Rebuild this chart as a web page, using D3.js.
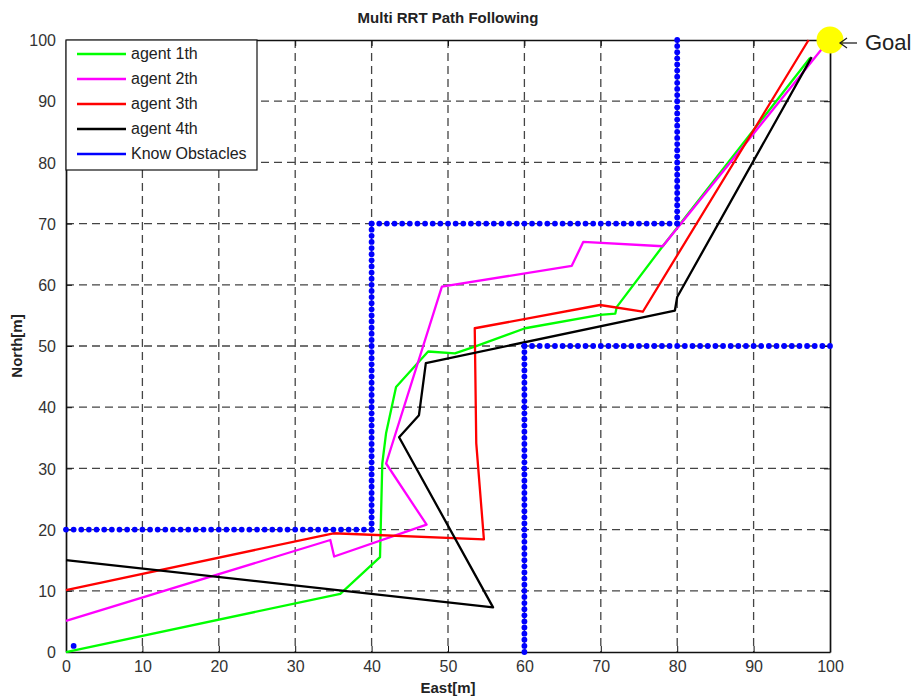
<!DOCTYPE html>
<html>
<head>
<meta charset="utf-8">
<script src="https://cdn.jsdelivr.net/npm/d3@7"></script>
<style>
  body { margin: 0; background: #fff; }
  text { font-family: "Liberation Sans", Arial, sans-serif; }
</style>
</head>
<body>
<div id="chart"></div>
<script>
// path points (East, North in metres)
var agent1X = [0, 35.9, 41.1, 41.4, 41.9, 43.2, 47.4, 50.9, 53.5, 60.1, 69.9, 71.9, 72.1, 78.1, 97.4];
var agent1Y = [0, 9.5, 15.5, 30.8, 35.8, 43.3, 49.1, 48.8, 49.9, 52.9, 55.1, 55.3, 56.4, 66.3, 97.1];

var agent2X = [0, 34.6, 35.1, 47.2, 41.9, 49.2, 66.2, 67.7, 78.1, 98.9];
var agent2Y = [5.1, 18.3, 15.6, 20.8, 30.8, 59.7, 63.1, 67.0, 66.3, 98.5];

var agent3X = [0, 35.0, 54.7, 53.7, 53.5, 69.9, 75.5, 97.2];
var agent3Y = [10.1, 19.4, 18.4, 34.1, 52.9, 56.7, 55.6, 100];

var agent4X = [0, 55.9, 43.6, 46.2, 47.1, 79.7, 80.0, 97.6];
var agent4Y = [15, 7.3, 35.1, 38.7, 47.2, 55.8, 58.0, 97.2];

// obstacle walls: start and end points, dots every 1 m
var wallX1 = [0, 40, 40, 80, 60, 60];
var wallY1 = [20, 20, 70, 70, 0, 50];
var wallX2 = [40, 40, 80, 80, 60, 100];
var wallY2 = [20, 70, 70, 100, 50, 50];
var wallStep = 1;
var extraObstacle = [1, 1];

var goal = [100, 100];

var agentNames = ["agent 1th", "agent 2th", "agent 3th", "agent 4th", "Know Obstacles"];
var agentColors = ["#00ff00", "#ff00ff", "#ff0000", "#000000", "#0000ff"];
var ticks = [0, 10, 20, 30, 40, 50, 60, 70, 80, 90, 100];

var svgWidth = 913;
var svgHeight = 697;

var margin = { top: 40, right: 83, bottom: 45, left: 66 };
var width = svgWidth - margin.left - margin.right;   // 764
var height = svgHeight - margin.top - margin.bottom; // 612

var svg = d3.select("#chart")
  .append("svg")
  .attr("width", svgWidth)
  .attr("height", svgHeight);

var chartGroup = svg.append("g")
  .attr("transform", `translate(${margin.left}, ${margin.top})`);

var x = d3.scaleLinear().domain([0, 100]).range([0, width]);
var y = d3.scaleLinear().domain([0, 100]).range([height, 0]);

// grid
chartGroup.append("g")
  .selectAll("line.vgrid")
  .data(ticks.slice(1, -1))
  .enter()
  .append("line")
  .attr("x1", d => x(d)).attr("x2", d => x(d))
  .attr("y1", 0).attr("y2", height)
  .attr("stroke", "#444")
  .attr("stroke-width", 1.3)
  .attr("stroke-dasharray", "8,5");

chartGroup.append("g")
  .selectAll("line.hgrid")
  .data(ticks.slice(1, -1))
  .enter()
  .append("line")
  .attr("x1", 0).attr("x2", width)
  .attr("y1", d => y(d)).attr("y2", d => y(d))
  .attr("stroke", "#444")
  .attr("stroke-width", 1.3)
  .attr("stroke-dasharray", "8,5");

// axes
var bottomAxis = d3.axisBottom(x).tickValues(ticks).tickSizeInner(-6).tickSizeOuter(0).tickPadding(9);
var leftAxis = d3.axisLeft(y).tickValues(ticks).tickSizeInner(-6).tickSizeOuter(0).tickPadding(10);

var xAxis = chartGroup.append("g")
  .attr("transform", `translate(0, ${height})`)
  .call(bottomAxis);
var yAxis = chartGroup.append("g")
  .call(leftAxis);

chartGroup.append("g")
  .call(d3.axisTop(x).tickValues(ticks).tickSizeInner(-6).tickSizeOuter(0).tickFormat(""));
chartGroup.append("g")
  .attr("transform", `translate(${width}, 0)`)
  .call(d3.axisRight(y).tickValues(ticks).tickSizeInner(-6).tickSizeOuter(0).tickFormat(""));

chartGroup.selectAll(".domain").attr("stroke", "#111").attr("stroke-width", 1.7);
chartGroup.selectAll(".tick line").attr("stroke", "#111");
chartGroup.selectAll(".tick text")
  .attr("font-size", "16px")
  .attr("fill", "#333")
  .attr("font-family", "Liberation Sans, Arial, sans-serif");
yAxis.selectAll(".tick text").attr("dy", "0.36em");

// agent paths
var paths = [
  [agent1X, agent1Y],
  [agent2X, agent2Y],
  [agent3X, agent3Y],
  [agent4X, agent4Y]
];

var line = d3.line()
  .x(d => x(d[0]))
  .y(d => y(d[1]));

paths.forEach(function(p, i) {
  var pts = p[0].map((v, j) => [v, p[1][j]]);
  chartGroup.append("path")
    .datum(pts)
    .attr("d", line)
    .attr("fill", "none")
    .attr("stroke", agentColors[i])
    .attr("stroke-width", 2.3)
    .attr("stroke-linejoin", "round");
});

// obstacles as dots along the walls
var obstacleDots = [];
wallX1.forEach(function(x1, i) {
  var dx = wallX2[i] - x1;
  var dy = wallY2[i] - wallY1[i];
  var len = Math.max(Math.abs(dx), Math.abs(dy));
  d3.range(0, len + 0.001, wallStep).forEach(function(s) {
    obstacleDots.push([x1 + dx * s / len, wallY1[i] + dy * s / len]);
  });
});
obstacleDots.push(extraObstacle);

chartGroup.append("g")
  .selectAll("circle")
  .data(obstacleDots)
  .enter()
  .append("circle")
  .attr("cx", d => x(d[0]))
  .attr("cy", d => y(d[1]))
  .attr("r", 2.9)
  .attr("fill", "#0000ff");

// goal
chartGroup.append("circle")
  .attr("cx", x(goal[0]))
  .attr("cy", y(goal[1]))
  .attr("r", 13.5)
  .attr("fill", "#ffff00");

chartGroup.append("line")
  .attr("x1", x(goal[0]) + 27).attr("x2", x(goal[0]) + 10)
  .attr("y1", y(goal[1]) + 3).attr("y2", y(goal[1]) + 3)
  .attr("stroke", "#222").attr("stroke-width", 1.3);
chartGroup.append("path")
  .attr("d", `M${x(goal[0]) + 17},${y(goal[1]) - 2} L${x(goal[0]) + 10},${y(goal[1]) + 3} L${x(goal[0]) + 17},${y(goal[1]) + 8}`)
  .attr("fill", "none")
  .attr("stroke", "#222").attr("stroke-width", 1.3);
chartGroup.append("text")
  .attr("x", x(goal[0]) + 35)
  .attr("y", y(goal[1]) + 10)
  .attr("font-size", "22px")
  .attr("fill", "#222")
  .text("Goal");

// legend
var legend = chartGroup.append("g");
legend.append("rect")
  .attr("x", 0).attr("y", 0)
  .attr("width", 191).attr("height", 130)
  .attr("fill", "#fff")
  .attr("stroke", "#111")
  .attr("stroke-width", 1.2);

agentNames.forEach(function(name, i) {
  var ly = 14 + i * 25;
  legend.append("line")
    .attr("x1", 11).attr("x2", 60)
    .attr("y1", ly).attr("y2", ly)
    .attr("stroke", agentColors[i])
    .attr("stroke-width", 2.3);
  legend.append("text")
    .attr("x", 65)
    .attr("y", ly + 5)
    .attr("font-size", "16px")
    .attr("fill", "#222")
    .text(name);
});

// titles
svg.append("text")
  .attr("x", margin.left + width / 2)
  .attr("y", 23)
  .attr("text-anchor", "middle")
  .attr("font-size", "15px")
  .attr("font-weight", "bold")
  .attr("fill", "#222")
  .text("Multi RRT Path Following");

svg.append("text")
  .attr("x", margin.left + width / 2)
  .attr("y", 693)
  .attr("text-anchor", "middle")
  .attr("font-size", "15px")
  .attr("font-weight", "bold")
  .attr("fill", "#222")
  .text("East[m]");

svg.append("text")
  .attr("transform", `translate(22, ${margin.top + height / 2}) rotate(-90)`)
  .attr("text-anchor", "middle")
  .attr("font-size", "15px")
  .attr("font-weight", "bold")
  .attr("fill", "#222")
  .text("North[m]");
</script>
</body>
</html>
